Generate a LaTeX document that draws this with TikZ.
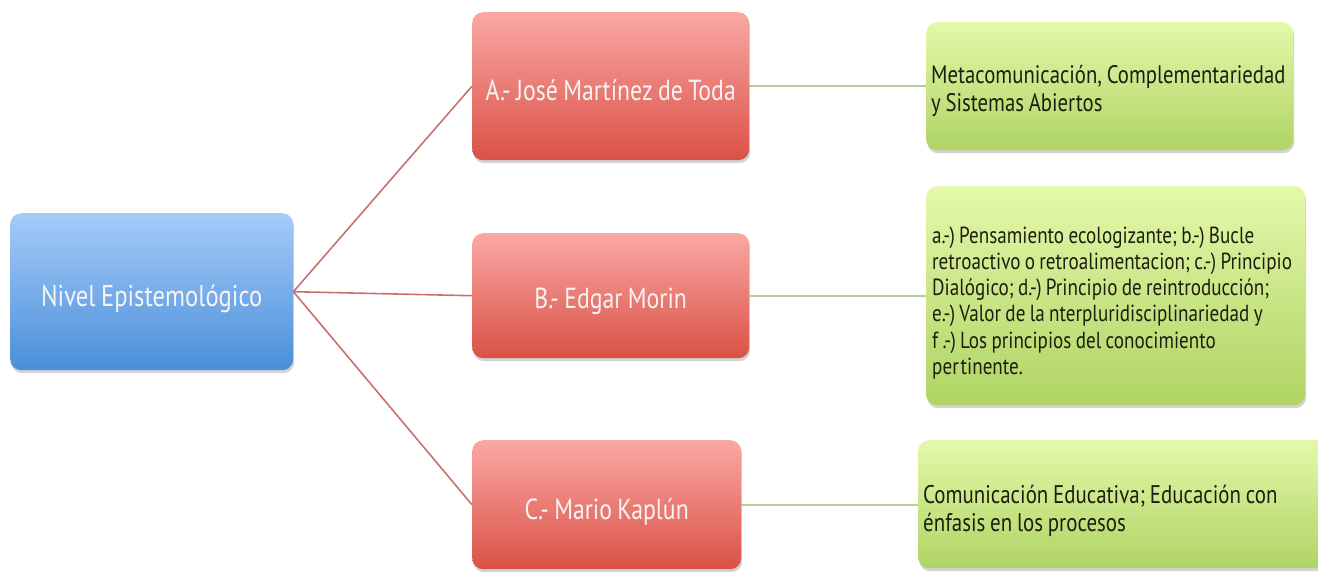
\documentclass[tikz,border=0pt]{standalone}
\usepackage{fontspec}
\setmainfont[FakeStretch=0.82, WordSpace=0.85]{PT Sans}
\usetikzlibrary{shadows}
\definecolor{bluetop}{HTML}{A6CBF9}
\definecolor{bluebot}{HTML}{4A8FD9}
\definecolor{redtop}{HTML}{FAA8A5}
\definecolor{redbot}{HTML}{DA5145}
\definecolor{greentop}{HTML}{E4F8AA}
\definecolor{greenbot}{HTML}{AFD464}
\definecolor{redline}{HTML}{C9716B}
\definecolor{greenline}{HTML}{B8CF8E}
\definecolor{lighttext}{HTML}{F6F4F4}
\definecolor{darktext}{HTML}{1E1E10}
\tikzset{
  x=1pt, y=-1pt,
  boxbase/.style={rounded corners=11pt, inner sep=0pt, anchor=north west,
    drop shadow={opacity=0.35, shadow xshift=1pt, shadow yshift=-3pt}},
  bluebox/.style={boxbase, top color=bluetop, bottom color=bluebot, text=lighttext,
    font=\fontsize{30}{34}\selectfont, text depth=2pt},
  redbox/.style={boxbase, top color=redtop, bottom color=redbot, text=lighttext,
    font=\fontsize{29}{33}\selectfont, text depth=2pt},
  greenbox/.style={boxbase, top color=greentop, bottom color=greenbot},
  greentext/.style={anchor=north west, inner sep=0pt, text=darktext, align=flush left},
  redlink/.style={draw=redline, line width=1.6pt},
  greenlink/.style={draw=greenline, line width=2pt},
}
\begin{document}
\begin{tikzpicture}
\useasboundingbox (0,0) rectangle (1318,571);
% central
\node[bluebox, minimum width=283pt, minimum height=157pt, text height=31pt] (root) at (10,213) {Nivel Epistemológico};
% red
\node[redbox, minimum width=277pt, minimum height=148pt, text height=31pt] (a) at (472,12) {A.- José Martínez de Toda};
\node[redbox, minimum width=277pt, minimum height=125pt, text height=27pt] (b) at (472,233) {B.- Edgar Morin};
\node[redbox, minimum width=269pt, minimum height=129pt, text height=31pt] (c) at (472,440) {C.- Mario Kaplún};
% green boxes
\node[greenbox, minimum width=367pt, minimum height=128pt] (ga) at (926,22) {};
\node[greenbox, minimum width=379pt, minimum height=219pt] (gb) at (926,186) {};
\node[greenbox, minimum width=410pt, minimum height=128pt] (gc) at (918,440) {};
% green texts
\node[greentext, font=\fontsize{25.3}{28}\selectfont] (gat) at (931,53)
  {\rule{0pt}{30pt}Metacomunicación, Complementariedad\\y Sistemas Abiertos};
\node[greentext, font=\fontsize{23.3}{26.2}\selectfont] (gbt) at (932,213)
  {\rule{0pt}{30pt}a.-) Pensamiento ecologizante; b.-) Bucle\\retroactivo o retroalimentacion; c.-) Principio\\Dialógico; d.-) Principio de reintroducción;\\e.-) Valor de la nterpluridisciplinariedad y\\f .-) Los principios del conocimiento\\per\hspace{2pt}tinente.};
\node[greentext, font=\fontsize{25.5}{28}\selectfont] (gct) at (923,473)
  {\rule{0pt}{30pt}Comunicación Educativa; Educación con\\énfasis en los procesos};
% links
\coordinate (hub) at (root.east);
\draw[redlink] (hub) -- (a.west);
\draw[redlink] (hub) -- (b.west);
\draw[redlink] (hub) -- (c.west);
\draw[greenlink] (a.east) -- (ga.west |- a.east);
\draw[greenlink] (b.east) -- (gb.west |- b.east);
\draw[greenlink] (c.east) -- (gc.west |- c.east);
\end{tikzpicture}
\end{document}
